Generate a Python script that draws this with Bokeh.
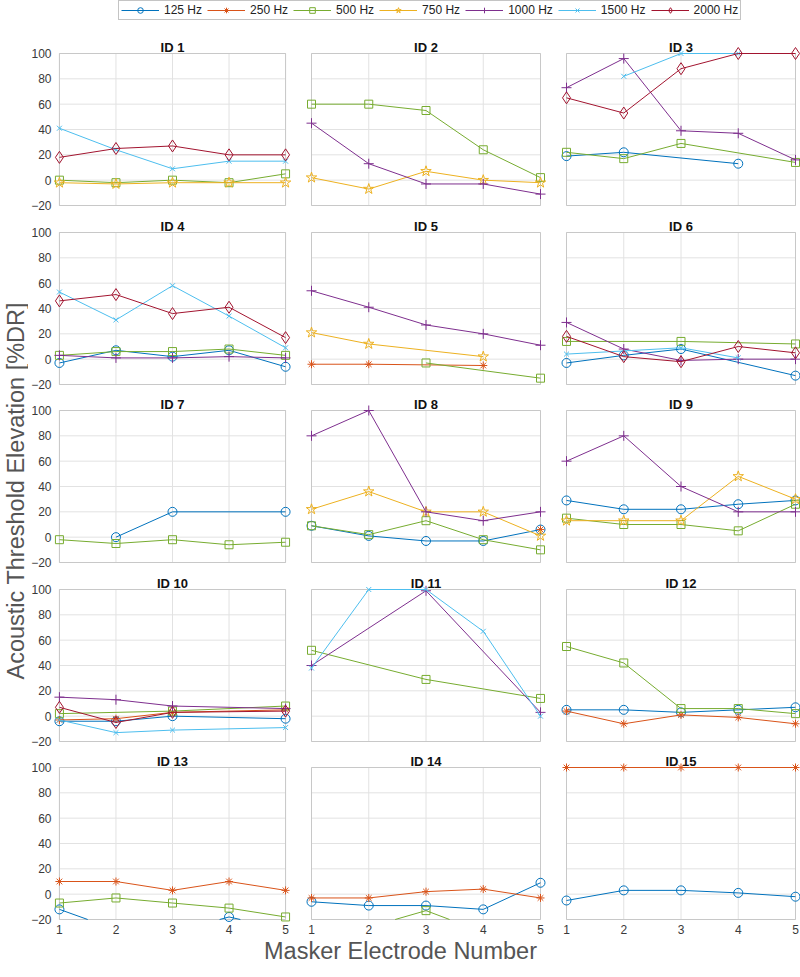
import math
from bokeh.plotting import figure
from bokeh.models import Range1d, Legend, LegendItem, FixedTicker, BoxAnnotation, Label
from bokeh.layouts import row, column
from bokeh.embed import file_html
from bokeh.resources import INLINE
from bokeh.core.properties import value

# ---------------- data ----------------
electrodes = [1, 2, 3, 4, 5]
y_ticks = [-20, 0, 20, 40, 60, 80, 100]
freq_labels = ["125 Hz", "250 Hz", "500 Hz", "750 Hz", "1000 Hz", "1500 Hz", "2000 Hz"]
panel_titles = ["ID %d" % i for i in range(1, 16)]
N = None

id1 = {"500 Hz": [0, -2, 0, -2, 5], "750 Hz": [-2, -3, -2, -2, -2],
       "1500 Hz": [41, 24, 9, 15, 15], "2000 Hz": [18, 25, 27, 20, 20]}
id2 = {"500 Hz": [60, 60, 55, 24, 2], "750 Hz": [2, -7, 7, 0, -2],
       "1000 Hz": [45, 13, -3, -3, -11]}
id3 = {"125 Hz": [19, 22, N, 13, N], "500 Hz": [22, 17, 29, N, 14],
       "1000 Hz": [73, 96, 39, 37, 16], "1500 Hz": [N, 82, 100, 100, N],
       "2000 Hz": [65, 53, 88, 100, 100]}
id4 = {"125 Hz": [-3, 7, 2, 7, -6], "500 Hz": [3, 6, 6, 8, 3],
       "1000 Hz": [3, 1, 1, 2, 1], "1500 Hz": [53, 31, 58, 34, 9],
       "2000 Hz": [46, 51, 36, 41, 17]}
id5 = {"250 Hz": [-4, -4, N, -5, N], "500 Hz": [N, N, -3, N, -15],
       "750 Hz": [21, 12, N, 2, N], "1000 Hz": [54, 41, 27, 20, 11]}
id6 = {"125 Hz": [-3, 3, 8, N, -13], "500 Hz": [14, N, 14, N, 12],
       "1000 Hz": [29, 8, -1, 0, 0], "1500 Hz": [4, N, 9, 1, N],
       "2000 Hz": [18, 2, -2, 10, 5]}
id7 = {"125 Hz": [N, 0, 20, N, 20], "500 Hz": [-2, -5, -2, -6, -4]}
id8 = {"125 Hz": [9, 1, -3, -3, 6], "250 Hz": [N, N, N, N, 6],
       "500 Hz": [9, 2, 13, -2, -10], "750 Hz": [22, 36, 20, 20, 1],
       "1000 Hz": [80, 100, 20, 13, 20]}
id9 = {"125 Hz": [29, 22, 22, 26, 29], "500 Hz": [15, 10, 10, 5, 26],
       "750 Hz": [13, 13, 13, 48, 30], "1000 Hz": [60, 80, 40, 20, 20]}
id10 = {"125 Hz": [-4, -4, 0, N, -2], "250 Hz": [-3, -2, 3, N, 5],
        "500 Hz": [2, N, 4, N, 8], "1000 Hz": [15, 13, 8, N, 6],
        "1500 Hz": [-3, -13, -11, N, -9], "2000 Hz": [7, -5, 3, N, 4]}
id11 = {"500 Hz": [52, N, 29, N, 14], "1000 Hz": [40, N, 99, N, 3],
        "1500 Hz": [38, 100, 100, 67, 0]}
id12 = {"125 Hz": [5, 5, 3, 5, 7], "250 Hz": [4, -6, 1, -1, -6],
        "500 Hz": [55, 42, 6, 6, 2]}
id13 = {"125 Hz": [-12, -28, -30, -18, -28], "250 Hz": [10, 10, 3, 10, 3],
        "500 Hz": [-7, -3, -7, -11, -18]}
id14 = {"125 Hz": [-6, -9, -9, -12, 9], "250 Hz": [-3, -3, 2, 4, -3],
        "500 Hz": [N, -26, -13, -30, N]}
id15 = {"125 Hz": [-5, 3, 3, 1, -2], "250 Hz": [100, 100, 100, 100, 100]}

panels = [id1, id2, id3, id4, id5, id6, id7, id8, id9, id10, id11, id12, id13, id14, id15]

# ---------------- styles ----------------
styles = {
    "125 Hz": dict(color="#0072BD", marker="circle", size=9),
    "250 Hz": dict(color="#D95319", marker="asterisk", size=8),
    "500 Hz": dict(color="#77AC30", marker="square", size=8),
    "750 Hz": dict(color="#EDB120", marker="star", size=11),
    "1000 Hz": dict(color="#7E2F8E", marker="cross", size=10),
    "1500 Hz": dict(color="#4DBEEE", marker="x", size=7),
    "2000 Hz": dict(color="#A2142F", marker="diamond", size=12),
}
FONT = "Liberation Sans"
GRID_COLOR = "#e2e2e2"
BOX_COLOR = "#8a8a8a"
TEXT_GRAY = "#555555"
YMIN, YMAX = -20, 100
XMIN, XMAX = 1, 5

# ---------------- layout (pixels; the page has no margin) ----------------
BOX_W, BOX_H = 229, 152
PAD_L = [6, 6, 6]
PAD_R = [6, 6, 5]
LEFT_B = [22, 7, 7]
RIGHT_B = [7, 7, 0]
PAD_TOP = [29, 20, 19, 20, 19]
PAD_BOT = [7, 7, 7, 7, 3]
BOTTOM_B = [0, 0, 0, 0, 16]
YLAB_W = 28
LEGEND_H = 24
XLAB_H = 32
TITLE_GAP = 6  # px between title baseline and axes box

ux = (XMAX - XMIN) / BOX_W
uy = (YMAX - YMIN) / BOX_H


def clip_polyline(xs, ys, lo, hi):
    segs_x, segs_y = [], []
    cx, cy = [], []
    for i in range(len(xs) - 1):
        x0, y0, x1, y1 = xs[i], ys[i], xs[i + 1], ys[i + 1]
        dy = y1 - y0
        t0, t1 = 0.0, 1.0
        if dy == 0:
            ok = lo <= y0 <= hi
        else:
            ta, tb = (lo - y0) / dy, (hi - y0) / dy
            t0 = max(0.0, min(ta, tb))
            t1 = min(1.0, max(ta, tb))
            ok = t0 <= t1
        if not ok:
            if len(cx) >= 2:
                segs_x.append(cx); segs_y.append(cy)
            cx, cy = [], []
            continue
        px0, py0 = x0 + t0 * (x1 - x0), y0 + t0 * dy
        px1, py1 = x0 + t1 * (x1 - x0), y0 + t1 * dy
        if cx and abs(cx[-1] - px0) < 1e-9 and abs(cy[-1] - py0) < 1e-9:
            cx.append(px1); cy.append(py1)
        else:
            if len(cx) >= 2:
                segs_x.append(cx); segs_y.append(cy)
            cx, cy = [px0, px1], [py0, py1]
    if len(cx) >= 2:
        segs_x.append(cx); segs_y.append(cy)
    return segs_x, segs_y


def make_panel(idx):
    r, c = divmod(idx, 3)
    data = panels[idx]
    fw = BOX_W + PAD_L[c] + PAD_R[c]
    fh = BOX_H + PAD_TOP[r] + PAD_BOT[r]
    w = LEFT_B[c] + fw + RIGHT_B[c]
    h = fh + BOTTOM_B[r]
    xr = Range1d(XMIN - PAD_L[c] * ux, XMAX + PAD_R[c] * ux)
    yr = Range1d(YMIN - PAD_BOT[r] * uy, YMAX + PAD_TOP[r] * uy)
    p = figure(width=w, height=h, x_range=xr, y_range=yr,
               output_backend="svg", toolbar_location=None,
               min_border_left=LEFT_B[c], min_border_right=RIGHT_B[c],
               min_border_top=0, min_border_bottom=BOTTOM_B[r])
    p.outline_line_color = None
    p.grid.visible = False
    p.background_fill_color = "white"
    p.border_fill_color = "white"

    p.xaxis.ticker = FixedTicker(ticks=electrodes)
    p.yaxis.ticker = FixedTicker(ticks=y_ticks)
    for ax in (p.xaxis, p.yaxis):
        ax.axis_line_color = None
        ax.major_tick_in = 0
        ax.major_tick_out = 0
        ax.minor_tick_line_color = None
        ax.major_label_text_font = FONT
        ax.major_label_text_font_size = "12px"
        ax.major_label_text_color = "#3a3a3a"
    p.yaxis.major_label_standoff = 2
    p.xaxis.major_label_standoff = 2
    p.xaxis.visible = (r == 4)
    p.yaxis.visible = (c == 0)

    # grid lines limited to the axes box, built from the tick lists
    p.segment(x0=electrodes, y0=[YMIN] * len(electrodes), x1=electrodes, y1=[YMAX] * len(electrodes),
              line_color=GRID_COLOR, line_width=1, level="underlay")
    p.segment(x0=[XMIN] * len(y_ticks), y0=y_ticks, x1=[XMAX] * len(y_ticks), y1=y_ticks,
              line_color=GRID_COLOR, line_width=1, level="underlay")
    p.add_layout(BoxAnnotation(left=XMIN, right=XMAX, bottom=YMIN, top=YMAX,
                               fill_alpha=0, fill_color=None, line_color=BOX_COLOR,
                               line_width=1, level="underlay"))
    # panel title, just above the axes box
    p.add_layout(Label(x=(XMIN + XMAX) / 2, y=YMAX + TITLE_GAP * uy, text=panel_titles[idx],
                       text_align="center", text_baseline="alphabetic", text_font=FONT,
                       text_font_size="13px", text_font_style="bold", text_color="#111111"))

    for f in freq_labels:
        if f not in data:
            continue
        st = styles[f]
        pts = [(x, y) for x, y in zip(electrodes, data[f]) if y is not None]
        xs = [q[0] for q in pts]
        ys = [q[1] for q in pts]
        sx, sy = clip_polyline(xs, ys, YMIN, YMAX)
        if sx:
            p.multi_line(sx, sy, line_color=st["color"], line_width=1)
        xi = [x for x, y in pts if YMIN <= y <= YMAX]
        yi = [y for x, y in pts if YMIN <= y <= YMAX]
        p.scatter(xi, yi, marker=st["marker"], size=st["size"], line_color=st["color"],
                  fill_color=None, line_width=1)
    return p


panel_figs = [make_panel(i) for i in range(15)]
grid_rows = [row(panel_figs[3 * r:3 * r + 3], spacing=0) for r in range(5)]
grid_col = column(grid_rows, spacing=0)
grid_h = sum(PAD_TOP) + sum(PAD_BOT) + sum(BOTTOM_B) + 5 * BOX_H
total_w = YLAB_W + sum(LEFT_B) + sum(RIGHT_B) + 3 * BOX_W + sum(PAD_L) + sum(PAD_R)

# legend figure
lg = figure(width=total_w, height=LEGEND_H, x_range=Range1d(0, 1), y_range=Range1d(0, 1),
            output_backend="svg", toolbar_location=None, min_border=0,
            x_axis_location=None, y_axis_location=None)
lg.grid.visible = False
lg.outline_line_color = None
items = []
for f in freq_labels:
    st = styles[f]
    r1 = lg.line([-5, -4], [-5, -4], line_color=st["color"], line_width=1)
    r2 = lg.scatter([-5], [-5], marker=st["marker"], size=st["size"], line_color=st["color"],
                    fill_color=None, line_width=1)
    items.append(LegendItem(label=f, renderers=[r1, r2]))
legend = Legend(items=items, orientation="horizontal", location=(118, 4),
                label_text_font=FONT, label_text_font_size="12px", label_text_color="#222222",
                glyph_width=38, glyph_height=14, label_standoff=5, spacing=5, padding=2,
                margin=0, border_line_color=BOX_COLOR, border_line_width=1,
                background_fill_color="white", background_fill_alpha=1.0)
lg.add_layout(legend, "center")

# y label figure
yl = figure(width=YLAB_W, height=grid_h, x_range=Range1d(0, YLAB_W), y_range=Range1d(0, grid_h),
            output_backend="svg", toolbar_location=None, min_border=0,
            x_axis_location=None, y_axis_location=None)
yl.grid.visible = False
yl.outline_line_color = None
yl.text(x=[15], y=[grid_h - (487 - LEGEND_H)], text=["Acoustic  Threshold Elevation [%DR]"],
        angle=math.pi / 2, text_align="center", text_baseline="middle", text_font=value(FONT),
        text_font_size="23.5px", text_color=TEXT_GRAY)

# x label figure
xl = figure(width=total_w, height=XLAB_H, x_range=Range1d(0, total_w), y_range=Range1d(0, XLAB_H),
            output_backend="svg", toolbar_location=None, min_border=0,
            x_axis_location=None, y_axis_location=None)
xl.grid.visible = False
xl.outline_line_color = None
xl.text(x=[400], y=[XLAB_H - 12], text=["Masker Electrode Number"], text_align="center",
        text_baseline="middle", text_font=value(FONT), text_font_size="23.5px",
        text_color=TEXT_GRAY)

layout = column([lg, row([yl, grid_col], spacing=0), xl], spacing=0)

open("out.html", "w").write(file_html(layout, INLINE))
